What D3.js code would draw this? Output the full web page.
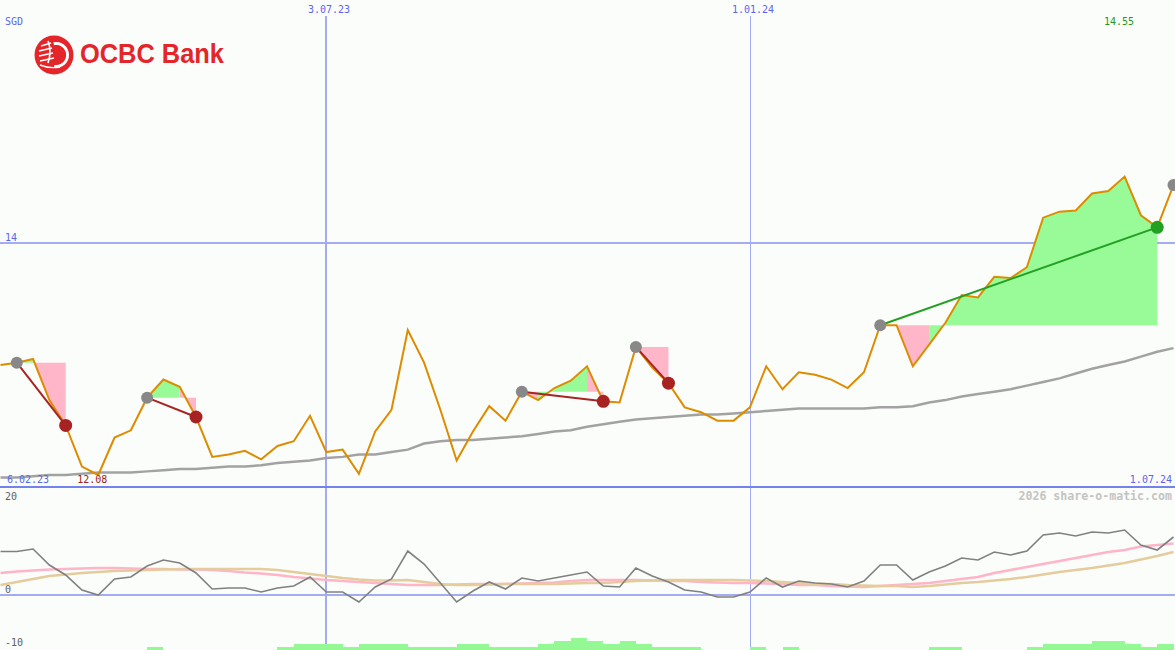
<!DOCTYPE html>
<html><head><meta charset="utf-8">
<script src="https://cdn.jsdelivr.net/npm/d3@7"></script>
<style>html,body{margin:0;padding:0;background:#fbfdfa;} svg{display:block}</style>
</head><body><svg id="c" width="1175" height="650"></svg>
<script>
// ---------- DATA ----------
const priceValues = [12.99,13.01,13.04,12.70,12.49,12.15,12.08,12.39,12.45,12.72,
  12.87,12.81,12.56,12.23,12.25,12.28,12.21,12.32,12.36,12.57,
  12.27,12.29,12.09,12.44,12.62,13.28,13.01,12.62,12.20,12.44,
  12.65,12.53,12.77,12.70,12.80,12.86,12.98,12.69,12.68,13.14,
  12.97,12.84,12.64,12.60,12.53,12.53,12.64,12.98,12.79,12.93,
  12.91,12.87,12.80,12.93,13.32,13.32,12.98,13.16,13.34,13.57,
  13.55,13.72,13.71,13.80,14.21,14.26,14.27,14.41,14.43,14.55,
  14.23,14.13,14.48];
const maValues = [12.06,12.06,12.07,12.08,12.08,12.09,12.10,12.10,12.10,12.11,
  12.12,12.13,12.13,12.14,12.15,12.15,12.16,12.18,12.19,12.20,
  12.22,12.23,12.25,12.25,12.27,12.29,12.34,12.36,12.37,12.37,
  12.38,12.39,12.40,12.42,12.44,12.45,12.48,12.50,12.52,12.54,
  12.55,12.56,12.57,12.58,12.58,12.59,12.60,12.61,12.62,12.63,
  12.63,12.63,12.63,12.63,12.64,12.64,12.65,12.68,12.70,12.73,
  12.75,12.77,12.79,12.82,12.85,12.88,12.92,12.96,12.99,13.02,
  13.06,13.10,13.13];
const momentumValues = [8.7,8.7,9.2,6.0,4.0,1.0,0.0,3.2,3.6,5.8,
  7.0,6.4,4.4,1.2,1.4,1.4,0.6,1.4,1.8,3.6,
  0.6,0.6,-1.4,1.6,3.2,8.8,6.2,2.4,-1.4,0.8,
  2.6,1.2,3.4,2.8,3.4,4.0,4.6,1.8,1.6,5.4,
  3.8,2.6,1.0,0.6,-0.4,-0.4,0.6,3.4,1.6,2.8,
  2.4,2.2,1.6,2.8,6.0,6.0,3.0,4.6,5.8,7.4,
  7.0,8.6,8.0,8.8,12.0,12.4,11.8,12.6,12.4,13.0,
  10.0,9.0,11.6];
const pinkAvgValues = [4.4,4.7,4.9,5.1,5.2,5.3,5.4,5.4,5.3,5.2,
  5.2,5.1,5.1,5.0,4.8,4.5,4.3,4.0,3.6,3.3,
  3.0,2.8,2.6,2.4,2.2,2.0,2.0,2.0,2.1,2.2,
  2.2,2.2,2.3,2.4,2.5,2.8,3.0,3.0,3.0,3.0,
  2.9,2.8,2.8,2.6,2.5,2.4,2.4,2.3,2.2,2.0,
  2.0,1.8,1.7,1.6,1.8,2.0,2.2,2.4,2.8,3.2,
  3.6,4.4,5.0,5.6,6.2,6.8,7.4,8.0,8.6,9.0,
  9.7,10.0,10.3];
const tanAvgValues = [2.0,2.6,3.2,3.8,4.1,4.4,4.6,4.8,4.9,5.0,
  5.1,5.2,5.2,5.2,5.2,5.2,5.2,5.0,4.6,4.2,
  3.8,3.4,3.1,2.9,2.9,3.0,2.6,2.2,2.0,2.0,
  2.1,2.2,2.2,2.2,2.2,2.3,2.4,2.4,2.6,2.8,
  2.9,3.0,3.0,3.0,3.0,3.0,2.9,2.8,2.6,2.4,
  2.2,2.2,2.0,1.9,1.8,1.8,1.6,1.8,2.1,2.4,
  2.6,2.9,3.2,3.6,4.1,4.6,5.0,5.4,5.9,6.4,
  7.1,7.8,8.6];
const barValues = [0,0,0,0,0,0,0,0,0,1, 0,0,0,0,0,0,0,1,2,2,
  2,1,2,2,2,1,1,1,2,2, 1,1,1,2,3,4,3,2,3,2,
  1,1,1,0,0,0,1,0,1,0, 0,0,0,0,0,0,0,1,1,0,
  0,0,0,1,2,2,2,3,3,2, 1,2,0];
const tradeEntries = [1, 9, 32, 39, 54, 72];
const tradeExits   = [4, 12, 37, 41, 71, null];
const gridIndex  = [20, 46];
const gridLabels = ["3.07.23", "1.01.24"];
const startLabel = "6.02.23";
const endLabel   = "1.07.24";
const priceTicks = [14];
const lowTicks   = [20, 0, -10];
const currency   = "SGD";
const maxLabel = "14.55";
const minLabel = "12.08";

// ---------- SCALES ----------
const svg = d3.select("#c");
const x = d3.scaleLinear().domain([0, 72]).range([0.5, 1173.5]);
const y = d3.scaleLinear().domain([12.08, 14.55]).range([475, 176.6]);
const yLow = d3.scaleLinear().domain([-10, 20]).range([645, 495]);
const yBar = d3.scaleLinear().domain([0, 4]).range([650, 638]);
const idx = d3.range(priceValues.length);

svg.append("rect").attr("width",1175).attr("height",650).attr("fill","#fbfdfa");

const mono = "'DejaVu Sans Mono', monospace";
const blue = "#5a66f0";

// ---------- GRID ----------
const grid = svg.append("g");
gridIndex.forEach((gi, k) => {
  const gx = Math.round(x(gi)) + (k === 0 ? 0 : 0.5);
  grid.append("line").attr("x1", gx).attr("x2", gx).attr("y1", 16).attr("y2", 650)
    .attr("stroke", "#a3abf3").attr("stroke-width", k === 0 ? 2 : 1);
});
priceTicks.forEach(t => {
  grid.append("line").attr("x1", 0).attr("x2", 1175).attr("y1", Math.round(y(t))).attr("y2", Math.round(y(t)))
    .attr("stroke", "#a3abf3").attr("stroke-width", 2);
});
grid.append("line").attr("x1",0).attr("x2",1175).attr("y1",487).attr("y2",487)
  .attr("stroke","#7482ee").attr("stroke-width",2);
grid.append("line").attr("x1",0).attr("x2",1175).attr("y1",yLow(0)).attr("y2",yLow(0))
  .attr("stroke","#a3abf3").attr("stroke-width",2);

// ---------- TRADE FILLS (one path per colour, so no seams) ----------
const fillPaths = { gain: "", loss: "" };
tradeEntries.forEach((e, k) => {
  const ex = tradeExits[k];
  if (ex === null) return;
  const L = priceValues[e];
  for (let i = e; i < ex; i++) {
    const area = d3.area().x(d => x(d)).y0(y(L)).y1(d => y(priceValues[d]));
    fillPaths[priceValues[i + 1] >= L ? "gain" : "loss"] += area([i, i + 1]);
  }
});
svg.append("path").attr("d", fillPaths.loss).attr("fill", "#ffb6c8");
svg.append("path").attr("d", fillPaths.gain).attr("fill", "#98fb98");

// ---------- MAIN LINES ----------
const line = (arr, sc) => d3.line().x(d => x(d)).y(d => sc(arr[d]));
svg.append("path").attr("d", line(maValues, y)(idx)).attr("fill","none")
  .attr("stroke","#a2a2a2").attr("stroke-width",2.5);
svg.append("path").attr("d", line(priceValues, y)(idx)).attr("fill","none")
  .attr("stroke","#dd8c00").attr("stroke-width",2).attr("stroke-linejoin","miter");

// trade lines and dots
tradeEntries.forEach((e, k) => {
  const ex = tradeExits[k];
  if (ex !== null) {
    const win = priceValues[ex] >= priceValues[e];
    svg.append("line").attr("x1", x(e)).attr("y1", y(priceValues[e]))
      .attr("x2", x(ex)).attr("y2", y(priceValues[ex]))
      .attr("stroke", win ? "#22a022" : "#a82424").attr("stroke-width", 2);
  }
});
tradeEntries.forEach((e, k) => {
  const ex = tradeExits[k];
  svg.append("circle").attr("cx", x(e)).attr("cy", y(priceValues[e])).attr("r", 6)
    .attr("fill", "#888888");
  if (ex !== null) {
    const win = priceValues[ex] >= priceValues[e];
    svg.append("circle").attr("cx", x(ex)).attr("cy", y(priceValues[ex])).attr("r", 6.5)
      .attr("fill", win ? "#22a022" : "#a82222");
  }
});

// ---------- LOWER PANEL ----------
svg.append("g").selectAll("rect").data(idx.filter(i => barValues[i] > 0)).join("rect")
  .attr("x", i => x(i)).attr("width", i => x(i + 1) - x(i))
  .attr("y", i => yBar(barValues[i])).attr("height", i => yBar(0) - yBar(barValues[i]))
  .attr("fill", "#94f994").attr("shape-rendering", "crispEdges");
svg.append("path").attr("d", line(pinkAvgValues, yLow)(idx)).attr("fill","none")
  .attr("stroke","#ffb4c8").attr("stroke-width",2.5);
svg.append("path").attr("d", line(tanAvgValues, yLow)(idx)).attr("fill","none")
  .attr("stroke","#e4cc9c").attr("stroke-width",2.5);
svg.append("path").attr("d", line(momentumValues, yLow)(idx)).attr("fill","none")
  .attr("stroke","#808080").attr("stroke-width",1.6);

// ---------- TEXT ----------
const txt = (s, tx, ty, col, anchor, size, weight) =>
  svg.append("text").attr("x", tx).attr("y", ty).text(s)
    .attr("fill", col).attr("font-family", mono).attr("font-size", size || 10)
    .attr("text-anchor", anchor || "start").attr("font-weight", weight || "normal");

txt(currency, 5, 25, blue);
gridIndex.forEach((gi, k) => txt(gridLabels[k], Math.round(x(gi)) - 18, 13, blue));
txt(maxLabel, 1104, 25, "#229922");
priceTicks.forEach(t => txt(String(t), 5, y(t) - 2, blue));
txt(startLabel, 7, 483, blue);
txt(minLabel, x(6) - 6, 483, "#a02020", "middle");
txt(endLabel, 1172, 483, blue, "end");
txt("2026 share-o-matic.com", 1172, 500, "#c4c4c4", "end", 11.6, "bold");
lowTicks.forEach(t => {
  let ty = yLow(t) - 2;
  if (t === 20) ty = yLow(t) + 5;
  if (t === -10) ty = yLow(t) + 1;
  txt(String(t), 5, ty, "#606060");
});

// ---------- LOGO ----------
const red = "#e4262b";
const logo = svg.append("g").attr("transform", "translate(54,55)");
logo.append("circle").attr("r", 19.5).attr("fill", red);
logo.append("path").attr("d", d3.arc().innerRadius(10).outerRadius(13)
  .startAngle(-0.2).endAngle(Math.PI * 1.05)()).attr("fill", "#fff").attr("transform","translate(2,0)");
logo.append("circle").attr("cx", 2).attr("r", 10).attr("fill", red);
[[-13,-9,-3,-12],[-15,-4,-2,-7],[-15,1,-1,-2],[-14,6,0,3]].forEach(p => {
  logo.append("line").attr("x1", p[0]).attr("y1", p[1]).attr("x2", p[2]).attr("y2", p[3])
    .attr("stroke", "#fff").attr("stroke-width", 1.6);
});
logo.append("path").attr("d","M-6,-14 Q-2,-4 -6,8").attr("stroke","#fff").attr("fill","none").attr("stroke-width",1.6);
logo.append("path").attr("d","M-14,10 Q-4,14 6,12").attr("stroke","#fff").attr("fill","none").attr("stroke-width",1.4);
svg.append("text").attr("x", 80).attr("y", 63).text("OCBC Bank")
  .attr("font-family", "'Liberation Sans', Arial, sans-serif").attr("font-weight", "bold")
  .attr("font-size", 28).attr("fill", red)
  .attr("textLength", 144).attr("lengthAdjust", "spacingAndGlyphs");
</script></body></html>
